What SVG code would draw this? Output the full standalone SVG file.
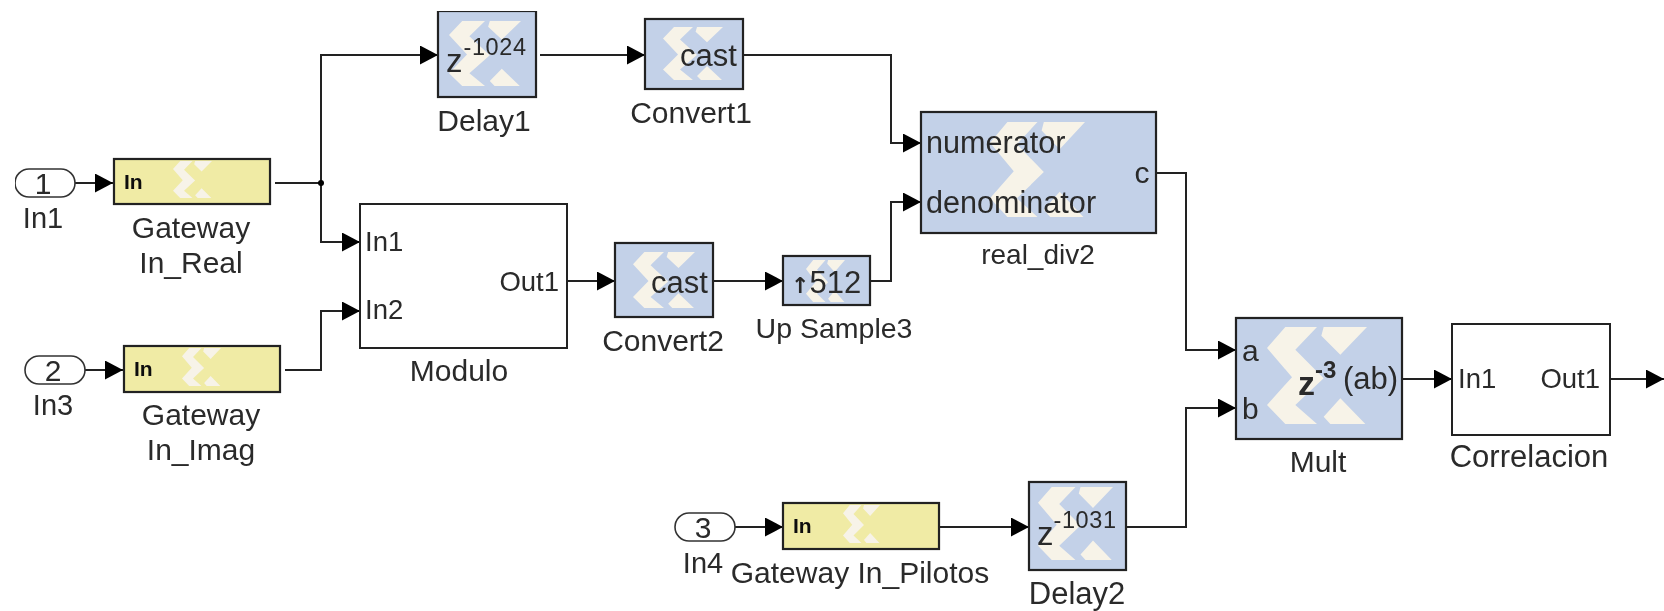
<svg xmlns="http://www.w3.org/2000/svg" xmlns:xlink="http://www.w3.org/1999/xlink" width="1664" height="611" viewBox="0 0 1664 611">
<style>
text{font-family:"Liberation Sans",Arial,sans-serif;font-size:30px;fill:#2a2a2a}
.m{text-anchor:middle}.e{text-anchor:end}
.b{font-weight:bold}
.p{font-size:27.5px}
.sup{font-size:23.5px;letter-spacing:.6px}
.z{font-size:33px}
.gi{font-size:21px;font-weight:bold;fill:#111}
.blue{fill:#c3d1e8;stroke:#222;stroke-width:2.2}
.yel{fill:#f0eba5;stroke:#222;stroke-width:2.2}
.sub{fill:#fff;stroke:#222;stroke-width:2}
.pill{fill:#fff;stroke:#333;stroke-width:1.6}
.w{fill:none;stroke:#222;stroke-width:2}
.wa{fill:none;stroke:#222;stroke-width:2;marker-end:url(#ah)}
</style>
<defs>
<filter id="soft" x="0" y="0" width="100%" height="100%"><feGaussianBlur stdDeviation="0.55"/></filter>
<marker id="ah" markerUnits="userSpaceOnUse" markerWidth="19" markerHeight="20" refX="18" refY="9.5" orient="auto"><path d="M0,0L18,9.5L0,19Z" fill="#000"/></marker>
<symbol id="logo" viewBox="320 82 300 290" preserveAspectRatio="none"><path fill="#f7f3e8" d="M375,82H470L405,150L490,235L405,315L470,372H375L320,315L395,232L320,145ZM490,82H620L540,165L483,108ZM540,295L615,372H510L490,350Z"/></symbol>
</defs>
<rect width="1664" height="611" fill="#fff"/>
<g filter="url(#soft)">
<g id="connectors">
<path class="wa" d="M75,183H113"/>
<path class="w" d="M275,183H321"/>
<path class="wa" d="M321,183V55H438"/>
<path class="wa" d="M321,183V242H360"/>
<circle cx="321" cy="183" r="3" fill="#000"/>
<path class="wa" d="M85,370H123"/>
<path class="wa" d="M285,370H321V311H360"/>
<path class="wa" d="M540,55H645"/>
<path class="wa" d="M743,55H891V143H921"/>
<path class="wa" d="M567,281H615"/>
<path class="wa" d="M713,281H783"/>
<path class="wa" d="M870,281H891V202H921"/>
<path class="wa" d="M1157,173H1186V350H1236"/>
<path class="wa" d="M735,527H783"/>
<path class="wa" d="M939,527H1029"/>
<path class="wa" d="M1126,527H1186V408H1236"/>
<path class="wa" d="M1402,379H1452"/>
<path class="wa" d="M1610,379H1664"/>
</g>
<g id="In1"><rect class="pill" x="15" y="169" width="60" height="28" rx="14"/><text class="m" x="43" y="194">1</text><text class="m p" style="font-size:29px" x="43" y="228">In1</text></g>
<g id="In3"><rect class="pill" x="25" y="356" width="60" height="28" rx="14"/><text class="m" x="53" y="381">2</text><text class="m p" style="font-size:29px" x="53" y="415">In3</text></g>
<g id="In4"><rect class="pill" x="675" y="513" width="60" height="28" rx="14"/><text class="m" x="703" y="538">3</text><text class="m p" style="font-size:29px" x="703" y="573">In4</text></g>
<g id="GatewayReal"><rect class="yel" x="114" y="159" width="156" height="45"/><use href="#logo" x="173" y="161" width="39" height="37"/><text class="gi" x="124" y="189">In</text><text class="m" x="191" y="238">Gateway</text><text class="m" x="191" y="273">In_Real</text></g>
<g id="GatewayImag"><rect class="yel" x="124" y="346" width="156" height="46"/><use href="#logo" x="182" y="348" width="39" height="38"/><text class="gi" x="134" y="376">In</text><text class="m" x="201" y="425">Gateway</text><text class="m" x="201" y="460">In_Imag</text></g>
<g id="GatewayPilotos"><rect class="yel" x="783" y="503" width="156" height="46"/><use href="#logo" x="843" y="505" width="37" height="38"/><text class="gi" x="793" y="533">In</text><text class="m" x="860" y="583">Gateway In_Pilotos</text></g>
<g id="Delay1"><rect class="blue" x="438" y="11" width="98" height="86"/><use href="#logo" x="449" y="21" width="72" height="65"/><text x="446" y="72"><tspan class="z">z</tspan><tspan class="sup" dx="1" dy="-17">-1024</tspan></text><text class="m" x="484" y="131">Delay1</text></g>
<g id="Convert1"><rect class="blue" x="645" y="19" width="98" height="70"/><use href="#logo" x="663" y="27" width="60" height="53"/><text style="font-size:31px" x="680" y="66">cast</text><text class="m" x="691" y="123">Convert1</text></g>
<g id="Modulo"><rect class="sub" x="360" y="204" width="207" height="144"/><text class="p" x="365" y="251">In1</text><text class="p" x="365" y="319">In2</text><text class="e p" x="559" y="291">Out1</text><text class="m" x="459" y="381">Modulo</text></g>
<g id="Convert2"><rect class="blue" x="615" y="243" width="98" height="74"/><use href="#logo" x="633" y="252" width="62" height="56"/><text style="font-size:31px" x="651" y="293">cast</text><text class="m" x="663" y="351">Convert2</text></g>
<g id="UpSample3"><rect class="blue" x="783" y="256" width="87" height="49"/><use href="#logo" x="806" y="260" width="39" height="42"/><text style="font-size:31px" x="791" y="293"><tspan class="b" style="font-family:'DejaVu Sans',sans-serif;font-size:22px">↑</tspan>512</text><text class="m" style="font-size:28.5px" x="834" y="338">Up Sample3</text></g>
<g id="real_div2"><rect class="blue" x="921" y="112" width="235" height="121"/><use href="#logo" x="990" y="122" width="95" height="95"/><text style="font-size:30.6px" x="926" y="153">numerator</text><text style="font-size:30.6px" x="926" y="213">denominator</text><text class="m" x="1142" y="183">c</text><text class="m" style="font-size:28px" x="1038" y="264">real_div2</text></g>
<g id="Mult"><rect class="blue" x="1236" y="318" width="166" height="121"/><use href="#logo" x="1267" y="327" width="100" height="97"/><text x="1242" y="361">a</text><text x="1242" y="419">b</text><text class="b" x="1298" y="395"><tspan style="font-size:34px">z</tspan><tspan style="font-size:24px" dy="-17">-3</tspan></text><text style="font-size:31px" x="1343" y="389">(ab)</text><text class="m" x="1318" y="472">Mult</text></g>
<g id="Correlacion"><rect class="sub" x="1452" y="324" width="158" height="111"/><text class="p" x="1458" y="388">In1</text><text class="e p" x="1600" y="388">Out1</text><text class="m" style="font-size:31px" x="1529" y="467">Correlacion</text></g>
<g id="Delay2"><rect class="blue" x="1029" y="482" width="97" height="88"/><use href="#logo" x="1038" y="487" width="75" height="73"/><text x="1037" y="545"><tspan class="z">z</tspan><tspan class="sup" dx="0" dy="-17">-1031</tspan></text><text class="m" style="font-size:31px" x="1077" y="604">Delay2</text></g>
</g>
</svg>
